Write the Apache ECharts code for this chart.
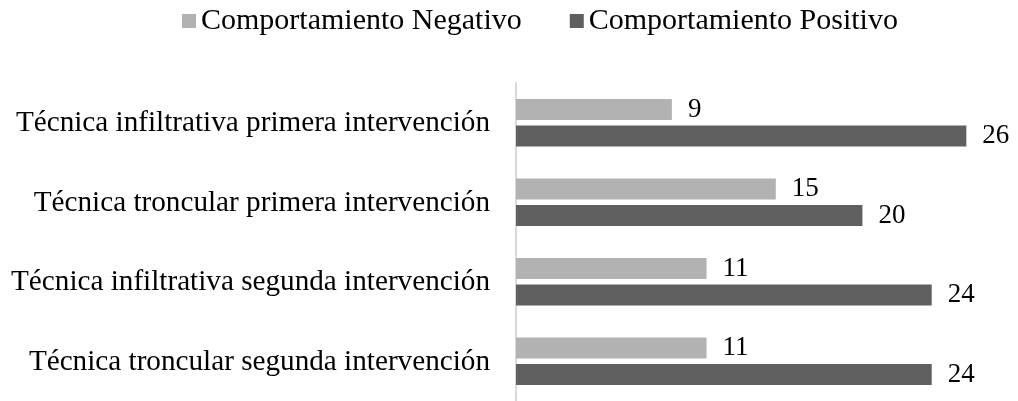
<!DOCTYPE html>
<html>
<head>
<meta charset="utf-8">
<script src="https://cdn.jsdelivr.net/npm/echarts@6/dist/echarts.min.js"></script>
<style>
html,body{margin:0;padding:0;background:#fff;}
#chart{width:1018px;height:401px;}
</style>
</head>
<body>
<div id="chart"></div>
<script>
const categories = [
  'Técnica infiltrativa primera intervención',
  'Técnica troncular primera intervención',
  'Técnica infiltrativa segunda intervención',
  'Técnica troncular segunda intervención'
];
const seriesNames = ['Comportamiento Negativo', 'Comportamiento Positivo'];
const negativo = [9, 15, 11, 11];
const positivo = [26, 20, 24, 24];

const FONT = "'Liberation Serif', 'Times New Roman', serif";
const chart = echarts.init(document.getElementById('chart'), null, {renderer: 'canvas'});
const labelCfg = {
  show: true,
  position: 'right',
  distance: 16,
  color: '#000',
  fontFamily: FONT,
  fontSize: 27
};
chart.setOption({
  animation: false,
  backgroundColor: '#fff',
  legend: {
    top: 6,
    left: 182,
    padding: 0,
    itemWidth: 14,
    itemHeight: 14,
    itemGap: 48,
    icon: 'rect',
    textStyle: {fontFamily: FONT, fontSize: 30, color: '#000'},
    data: seriesNames
  },
  grid: {left: 516, top: 83, height: 324, right: 17, containLabel: false},
  xAxis: {
    type: 'value', min: 0, max: 28, show: false
  },
  yAxis: {
    type: 'category',
    data: categories,
    inverse: true,
    axisLine: {show: true, lineStyle: {color: '#d9d9d9', width: 2}},
    axisTick: {show: false},
    axisLabel: {fontFamily: FONT, fontSize: 29.2, color: '#000', margin: 26, verticalAlign: 'top', lineHeight: 2}
  },
  series: [
    {
      name: seriesNames[0], type: 'bar', data: negativo,
      barCategoryGap: '40%', barGap: '25%',
      itemStyle: {color: '#b2b2b2'},
      label: labelCfg
    },
    {
      name: seriesNames[1], type: 'bar', data: positivo,
      barCategoryGap: '40%', barGap: '25%',
      itemStyle: {color: '#5f5f5f'},
      label: labelCfg
    }
  ]
});
</script>
</body>
</html>
